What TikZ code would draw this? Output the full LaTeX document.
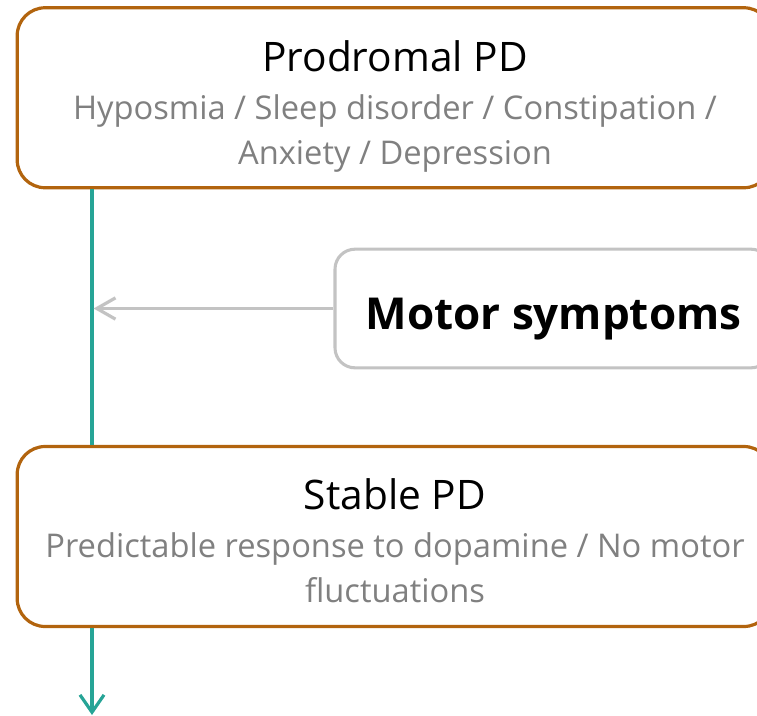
\documentclass[tikz,border=0pt]{standalone}
\usepackage{fontspec}
\setmainfont{Open Sans}
\usetikzlibrary{arrows.meta}
\definecolor{brownline}{RGB}{178,100,14}
\definecolor{tealline}{RGB}{38,164,150}
\definecolor{greyline}{RGB}{195,195,195}
\definecolor{greytext}{RGB}{128,128,128}
\tikzset{
  stagebox/.style={draw=brownline, line width=2.4pt, rounded corners=21pt, fill=white,
    minimum width=566pt, minimum height=135pt, inner sep=0pt},
  motorbox/.style={draw=greyline, line width=2.3pt, rounded corners=15pt, fill=white,
    minimum width=327pt, minimum height=89pt, inner sep=0pt},
  titletext/.style={anchor=base, inner sep=0pt, font=\fontsize{30.5}{36}\selectfont, text=black},
  subtext/.style={anchor=base, inner sep=0pt, font=\fontsize{24.5}{30}\selectfont, text=greytext},
  motortext/.style={anchor=base, inner sep=0pt, font=\fontsize{33}{40}\selectfont\bfseries, text=black},
  timeline/.style={draw=tealline, line width=2.4pt},
  timearrow/.style={timeline, -{Straight Barb[length=13pt, width=18pt, line width=2.4pt]}},
  motorarrow/.style={draw=greyline, line width=2.4pt, -{Straight Barb[length=14pt, width=16pt, line width=2.4pt]}}
}
\begin{document}
\begin{tikzpicture}[x=0.75pt,y=-0.75pt]
\useasboundingbox (0,0) rectangle (757,715);
% boxes
\node[stagebox] (prod) at (394.5,97.75) {};
\node[stagebox] (stable) at (394.5,536.5) {};
\node[motorbox] (motor) at (553,308.5) {};
% timeline
\coordinate (tend) at (92,715);
\draw[timeline] (prod.south -| tend) -- (stable.north -| tend);
\draw[timearrow] (stable.south -| tend) -- (tend);
\draw[motorarrow] (motor.west) -- ([xshift=1.2pt]motor.west -| tend);
% texts
\node[titletext] (prodtitle) at (395,71) {Prodromal PD};
\node[subtext] (prodsub1) at (395,119) {Hyposmia / Sleep disorder / Constipation /};
\node[subtext] (prodsub2) at (395,164) {Anxiety / Depression};
\node[motortext] (motortitle) at (553.5,329) {Motor symptoms};
\node[titletext] (stabletitle) at (395,509) {Stable PD};
\node[subtext] (stablesub1) at (395,557) {Predictable response to dopamine / No motor};
\node[subtext] (stablesub2) at (395,602) {fluctuations};
\end{tikzpicture}
\end{document}
